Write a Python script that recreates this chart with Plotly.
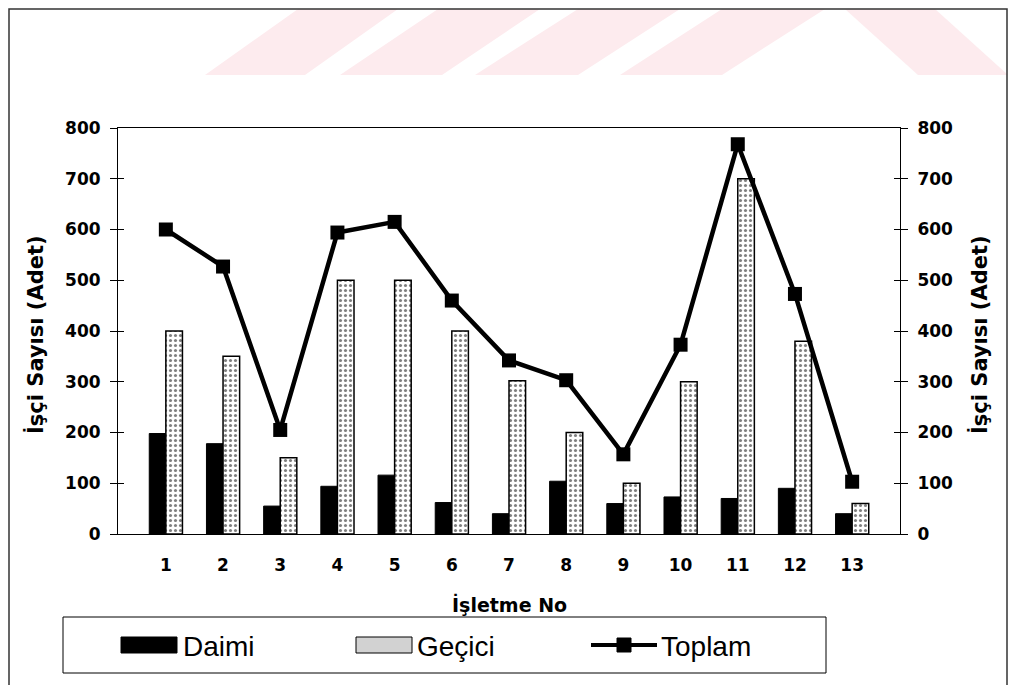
import plotly.graph_objects as go

categories = [str(i) for i in range(1, 14)]
daimi = [198, 178, 55, 94, 116, 62, 40, 104, 60, 73, 70, 90, 40]
gecici = [400, 350, 150, 500, 500, 400, 302, 200, 100, 300, 700, 380, 60]
toplam = [600, 527, 205, 594, 615, 460, 342, 303, 157, 373, 768, 473, 103]
y_ticks = [0, 100, 200, 300, 400, 500, 600, 700, 800]

# page body has an 8px margin; work in screen pixels and convert
OFF = 8
W, H = 1000, 677
L, R, T, B = 118, 900, 128, 534  # plot area in screen px


def px(X):
    return (X - L) / (R - L)


def py(Y):
    return (B - Y) / (B - T)


FONT = "Liberation Sans, Arial, sans-serif"
BOLD_FONT = "DejaVu Sans, Arial, sans-serif"

fig = go.Figure()
fig.add_trace(go.Bar(
    x=categories, y=daimi, name="Daimi",
    marker=dict(color="black", line=dict(color="black", width=1)),
))
fig.add_trace(go.Bar(
    x=categories, y=gecici, name="Geçici",
    marker=dict(color="white", line=dict(color="black", width=1.5),
                pattern=dict(shape=".", fgcolor="black", bgcolor="white",
                             size=5, solidity=0.3)),
))
fig.add_trace(go.Scatter(
    x=categories, y=toplam, name="Toplam", yaxis="y2",
    mode="lines+markers",
    line=dict(color="black", width=4.5),
    marker=dict(symbol="square", size=14, color="black"),
))
# invisible helpers so the inner tick axes get drawn
for ax in ("y3", "y4"):
    fig.add_trace(go.Scatter(x=[categories[0]], y=[0], yaxis=ax, mode="markers",
                             marker=dict(opacity=0), hoverinfo="skip",
                             showlegend=False))

axis_font = dict(family=BOLD_FONT, size=17, color="black", weight="bold")

common_y = dict(range=[0, 800], tickvals=y_ticks, showgrid=False,
                zeroline=False, tickcolor="black")

fig.update_layout(
    width=W, height=H,
    margin=dict(l=L - OFF, r=W - (R - OFF), t=T - OFF, b=H - (B - OFF), pad=0),
    paper_bgcolor="white", plot_bgcolor="white",
    barmode="group", bargap=0.42, bargroupgap=0.0,
    showlegend=False,
    xaxis=dict(
        type="category", showline=True, linecolor="black", linewidth=1,
        mirror=True, ticks="", showgrid=False, tickfont=axis_font,
        ticklabelstandoff=16,
    ),
    yaxis=dict(**common_y, showline=True, linecolor="black", linewidth=1,
               ticks="outside", ticklen=7, tickfont=axis_font,
               ticklabelstandoff=6),
    yaxis2=dict(**common_y, overlaying="y", side="right", showline=True,
                linecolor="black", linewidth=1, ticks="outside", ticklen=7,
                tickfont=axis_font, ticklabelstandoff=6),
    yaxis3=dict(**common_y, overlaying="y", side="left", showline=False,
                ticks="inside", ticklen=6, showticklabels=False),
    yaxis4=dict(**common_y, overlaying="y", side="right", showline=False,
                ticks="inside", ticklen=6, showticklabels=False),
)

shapes = []
# faint watermark stripes at the top of the page
stripe_color = "#fdebee"
stripes = [
    [(205, 75), (305, 75), (398, 9), (298, 9)],
    [(340, 75), (442, 75), (540, 9), (438, 9)],
    [(475, 75), (578, 75), (680, 9), (578, 9)],
    [(620, 75), (722, 75), (825, 9), (722, 9)],
    [(918, 75), (1008, 75), (935, 9), (845, 9)],
]
for poly in stripes:
    path = "M " + " L ".join(f"{px(x)},{py(y)}" for x, y in poly) + " Z"
    shapes.append(dict(type="path", xref="paper", yref="paper", path=path,
                       fillcolor=stripe_color, line=dict(width=0), layer="below"))

# outer frame (left, top, right edges)
frame = f"M {px(9)},{py(700)} L {px(9)},{py(9)} L {px(1007)},{py(9)} L {px(1007)},{py(700)}"
shapes.append(dict(type="path", xref="paper", yref="paper", path=frame,
                   line=dict(color="#333333", width=1.5)))

# legend box
shapes.append(dict(type="rect", xref="paper", yref="paper",
                   x0=px(63), x1=px(826), y0=py(673), y1=py(617),
                   line=dict(color="black", width=1), fillcolor="white"))
shapes.append(dict(type="rect", xref="paper", yref="paper",
                   x0=px(121), x1=px(177), y0=py(653), y1=py(637),
                   line=dict(color="black", width=1), fillcolor="black"))
shapes.append(dict(type="rect", xref="paper", yref="paper",
                   x0=px(356), x1=px(412), y0=py(653), y1=py(637),
                   line=dict(color="black", width=1), fillcolor="#d2d2d2"))
shapes.append(dict(type="line", xref="paper", yref="paper",
                   x0=px(591), x1=px(657), y0=py(645), y1=py(645),
                   line=dict(color="black", width=4)))
shapes.append(dict(type="rect", xref="paper", yref="paper",
                   x0=px(617), x1=px(631), y0=py(652), y1=py(638),
                   line=dict(color="black", width=1), fillcolor="black"))

fig.update_layout(shapes=shapes)

title_font = dict(family=BOLD_FONT, size=21, color="black", weight="bold")
leg_font = dict(family=FONT, size=28, color="black")
annotations = [
    dict(text="İşçi Sayısı (Adet)", x=px(35), y=py(335), xref="paper", yref="paper",
         textangle=-90, showarrow=False, font=title_font,
         xanchor="center", yanchor="middle"),
    dict(text="İşçi Sayısı (Adet)", x=px(979), y=py(335), xref="paper", yref="paper",
         textangle=-90, showarrow=False, font=title_font,
         xanchor="center", yanchor="middle"),
    dict(text="İşletme No", x=0.5, y=py(604), xref="paper", yref="paper",
         showarrow=False, font=dict(family=BOLD_FONT, size=19, color="black", weight="bold"),
         xanchor="center", yanchor="middle"),
    dict(text="Daimi", x=px(181), y=py(646), xref="paper", yref="paper",
         showarrow=False, font=leg_font, xanchor="left", yanchor="middle"),
    dict(text="Geçici", x=px(415), y=py(646), xref="paper", yref="paper",
         showarrow=False, font=leg_font, xanchor="left", yanchor="middle"),
    dict(text="Toplam", x=px(659), y=py(646), xref="paper", yref="paper",
         showarrow=False, font=leg_font, xanchor="left", yanchor="middle"),
]
fig.update_layout(annotations=annotations)

fig.write_html("out.html")
